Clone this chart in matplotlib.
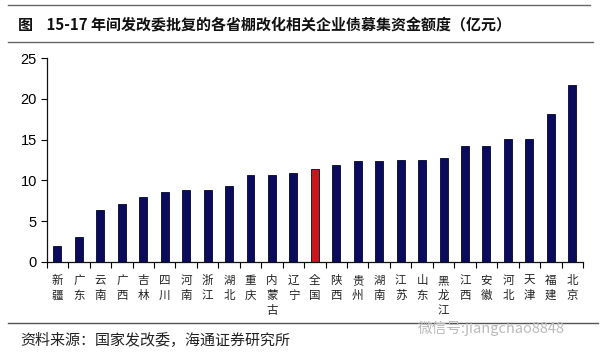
import matplotlib
matplotlib.use("Agg")
import matplotlib.pyplot as plt
from matplotlib.lines import Line2D
import numpy as np

plt.rcParams['font.family'] = ['Noto Sans CJK SC', 'DejaVu Sans']

categories = ['新疆', '广东', '云南', '广西', '吉林', '四川', '河南', '浙江', '湖北', '重庆',
              '内蒙古', '辽宁', '全国', '陕西', '贵州', '湖南', '江苏', '山东', '黑龙江', '江西',
              '安徽', '河北', '天津', '福建', '北京']
values = [1.9, 3.0, 6.35, 7.05, 8.0, 8.6, 8.8, 8.8, 9.25, 10.6,
          10.7, 10.9, 11.45, 11.9, 12.4, 12.4, 12.5, 12.55, 12.8, 14.2,
          14.2, 15.05, 15.05, 18.1, 21.75]
highlight = '全国'
y_ticks = [0, 5, 10, 15, 20, 25]
title = '图    15-17 年间发改委批复的各省棚改化相关企业债募集资金额度（亿元）'
source = '资料来源：国家发改委，海通证券研究所'
watermark = '微信号:jiangchao8848'

W, H = 600, 355
fig = plt.figure(figsize=(W / 100, H / 100), dpi=100)
ax = fig.add_axes([46.7 / W, 93.3 / H, (583 - 46.7) / W, (296.7 - 93.3) / H])

x = np.arange(len(categories))
colors = ['#C8161D' if c == highlight else '#0B0B5E' for c in categories]
ax.bar(x, values, width=0.37, color=colors, edgecolor='#05052A', linewidth=0.6)

ax.set_xlim(-0.5, len(categories) - 0.5)
ax.set_ylim(0, 25)
ax.set_yticks(y_ticks)
ax.set_yticklabels([str(v) for v in y_ticks], fontfamily='Liberation Sans', fontsize=10.5)
ax.tick_params(axis='y', direction='out', length=4, width=0.8, pad=3)

ax.set_xticks(x)
ax.set_xticklabels(['\n'.join(list(c)) for c in categories], fontsize=8.3,
                   linespacing=1.2, va='top', color='#222222')
ax.tick_params(axis='x', which='major', length=0, pad=9)
ax.set_xticks(np.arange(-0.5, len(categories)), minor=True)
ax.tick_params(axis='x', which='minor', direction='out', length=4, width=0.8)

for s in ['top', 'right']:
    ax.spines[s].set_visible(False)
for s in ['left', 'bottom']:
    ax.spines[s].set_linewidth(0.9)
    ax.spines[s].set_color('#111111')

# decorative lines
fig.add_artist(Line2D([8 / W, 590 / W], [1 - 5 / H, 1 - 5 / H], color='#666666', lw=1.0))
fig.add_artist(Line2D([8 / W, 593 / W], [1 - 41.7 / H, 1 - 41.7 / H], color='#666666', lw=1.0))
fig.add_artist(Line2D([8 / W, 598 / W], [1 - 323 / H, 1 - 323 / H], color='#555555', lw=1.0))

fig.text(18 / W, 1 - 24.5 / H, title, fontsize=10.8, fontweight='bold', va='center', ha='left',
         color='#111111')
fig.text(20 / W, 1 - 341 / H, source, fontsize=10.8, va='center', ha='left', color='#222222')
fig.text(418 / W, 1 - 328 / H, watermark, fontsize=10.5, va='center', ha='left', color='#BBBBBB')

fig.savefig('out.png', dpi=100)
